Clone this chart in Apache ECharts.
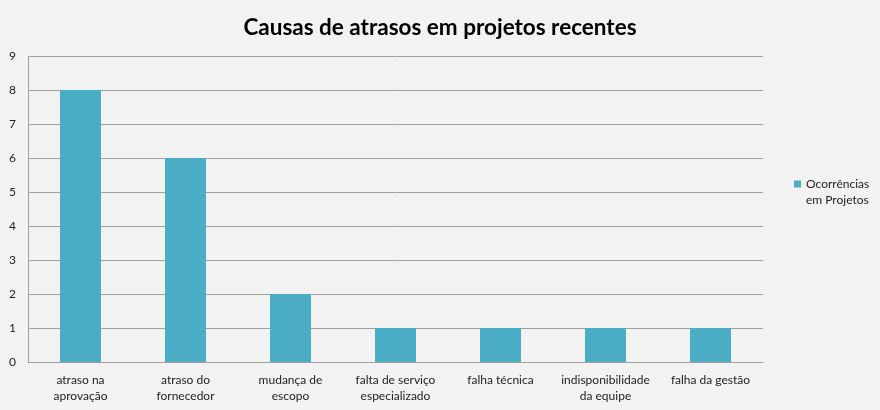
<!DOCTYPE html>
<html><head><meta charset="utf-8">
<script src="https://cdn.jsdelivr.net/npm/echarts@6/dist/echarts.min.js"></script>
<style>html,body{margin:0;padding:0;background:#f2f2f2}#c{width:880px;height:410px}</style>
</head><body><div id="c"></div>
<script>
const categories = ["atraso na\naprovação","atraso do\nfornecedor","mudança de\nescopo","falta de serviço\nespecializado","falha técnica","indisponibilidade\nda equipe","falha da gestão"];
const seriesName = "Ocorrências\nem Projetos";
const values = [8,6,2,1,1,1,1];
const yMin = 0, yMax = 9, yStep = 1;

const chart = echarts.init(document.getElementById('c'));
chart.setOption({
  backgroundColor: '#f2f2f2',
  animation: false,
  textStyle: {fontFamily: 'Lato'},
  title: {
    text: 'Causas de atrasos em projetos recentes',
    left: 'center', top: 11,
    textStyle: {fontFamily: 'Lato', fontWeight: 'bold', fontSize: 22.5, color: '#000'}
  },
  legend: {
    orient: 'vertical', left: 789, top: 155,
    itemWidth: 7, itemHeight: 7, icon: 'rect',
    data: [seriesName],
    formatter: function (n) { return ' \n' + n; },
    textStyle: {fontFamily: 'Lato', fontSize: 12, color: '#222', lineHeight: 16}
  },
  grid: {left: 28, right: 117, top: 56, bottom: 48, containLabel: false},
  xAxis: {
    type: 'category', data: categories,
    axisLine: {lineStyle: {color: '#a0a0a0', width: 1}},
    axisTick: {show: false},
    axisLabel: {fontFamily: 'Lato', fontSize: 12, color: '#222', lineHeight: 16, margin: 10, interval: 0}
  },
  yAxis: {
    type: 'value', min: yMin, max: yMax, interval: yStep,
    axisLine: {show: true, lineStyle: {color: '#a0a0a0', width: 1}},
    axisTick: {show: false},
    splitLine: {lineStyle: {color: '#a0a0a0', width: 1}},
    axisLabel: {fontFamily: 'Lato', fontSize: 12, color: '#222', margin: 12}
  },
  series: [{
    name: seriesName, type: 'bar', data: values,
    barWidth: 41,
    itemStyle: {color: '#4bacc6'}
  }]
});
</script></body></html>
